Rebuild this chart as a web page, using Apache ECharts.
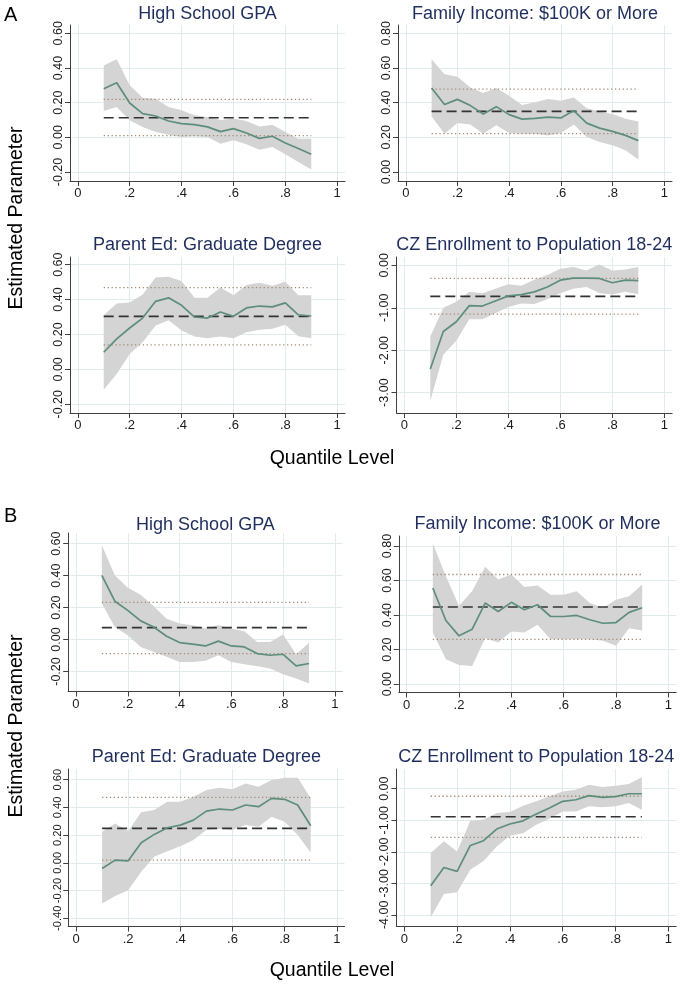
<!DOCTYPE html>
<html>
<head>
<meta charset="utf-8">
<title>Quantile estimates</title>
<script src="https://cdn.jsdelivr.net/npm/echarts@6/dist/echarts.min.js"></script>
<style>
  body, html { margin: 0; padding: 0; background: #fff; }
  #chart { width: 685px; height: 986px; }
</style>
</head>
<body>
<div id="chart"></div>
<script>
// quantile levels
var quantiles = [0.1, 0.15, 0.2, 0.25, 0.3, 0.35, 0.4, 0.45, 0.5, 0.55, 0.6, 0.65, 0.7, 0.75, 0.8, 0.85, 0.9];
var xTicks = [0, 0.2, 0.4, 0.6, 0.8, 1];
var panelTitles = ['High School GPA', 'Family Income: $100K or More', 'Parent Ed: Graduate Degree', 'CZ Enrollment to Population 18-24'];

// ---- A ----
var aGpaEst = [0.28, 0.315, 0.198, 0.137, 0.123, 0.094, 0.079, 0.073, 0.06, 0.033, 0.05, 0.025, -0.006, 0.006, -0.033, -0.065, -0.098];
var aGpaHi  = [0.415, 0.45, 0.30, 0.229, 0.223, 0.175, 0.156, 0.127, 0.117, 0.10, 0.108, 0.094, 0.063, 0.073, 0.031, -0.008, -0.008];
var aGpaLo  = [0.152, 0.175, 0.098, 0.06, 0.031, 0.015, 0.002, 0.006, 0.002, -0.037, -0.017, -0.04, -0.071, -0.056, -0.098, -0.142, -0.185];
var aGpaOls = [0.113, 0.01, 0.219];

var aIncEst = [0.484, 0.389, 0.419, 0.383, 0.335, 0.377, 0.331, 0.305, 0.309, 0.316, 0.312, 0.354, 0.282, 0.253, 0.234, 0.211, 0.181];
var aIncHi  = [0.65, 0.564, 0.549, 0.488, 0.455, 0.484, 0.44, 0.387, 0.402, 0.421, 0.411, 0.43, 0.368, 0.349, 0.335, 0.307, 0.291];
var aIncLo  = [0.32, 0.221, 0.282, 0.274, 0.221, 0.269, 0.225, 0.221, 0.221, 0.211, 0.225, 0.274, 0.202, 0.173, 0.154, 0.126, 0.072];
var aIncOls = [0.35, 0.221, 0.478];

var aParEst = [0.098, 0.175, 0.237, 0.294, 0.39, 0.41, 0.367, 0.30, 0.294, 0.329, 0.304, 0.352, 0.363, 0.358, 0.381, 0.313, 0.306];
var aParHi  = [0.31, 0.377, 0.383, 0.429, 0.527, 0.531, 0.506, 0.41, 0.41, 0.469, 0.425, 0.483, 0.496, 0.479, 0.502, 0.425, 0.425];
var aParLo  = [-0.117, -0.027, 0.088, 0.156, 0.252, 0.281, 0.223, 0.188, 0.179, 0.188, 0.179, 0.213, 0.227, 0.233, 0.256, 0.19, 0.179];
var aParOls = [0.304, 0.14, 0.469];

var aCzEst = [-2.445, -1.56, -1.33, -0.95, -0.96, -0.84, -0.72, -0.69, -0.625, -0.51, -0.35, -0.30, -0.30, -0.31, -0.41, -0.35, -0.36];
var aCzHi  = [-1.68, -1.0, -0.86, -0.625, -0.66, -0.55, -0.445, -0.48, -0.34, -0.23, -0.08, -0.04, -0.12, 0.02, -0.12, -0.10, -0.04];
var aCzLo  = [-3.2, -2.11, -1.78, -1.27, -1.27, -1.13, -0.98, -0.90, -0.91, -0.80, -0.66, -0.55, -0.51, -0.65, -0.69, -0.625, -0.68];
var aCzOls = [-0.73, -1.15, -0.31];

// ---- B ----
var bGpaEst = [0.402, 0.24, 0.183, 0.117, 0.079, 0.021, -0.019, -0.029, -0.04, -0.01, -0.04, -0.046, -0.0875, -0.098, -0.092, -0.165, -0.15];
var bGpaHi  = [0.59, 0.402, 0.325, 0.281, 0.208, 0.131, 0.10, 0.09, 0.069, 0.09, 0.069, 0.052, -0.015, -0.015, 0.031, -0.092, -0.021];
var bGpaLo  = [0.225, 0.079, 0.027, -0.046, -0.077, -0.108, -0.14, -0.14, -0.133, -0.098, -0.14, -0.154, -0.167, -0.181, -0.217, -0.244, -0.275];
var bGpaOls = [0.075, -0.0875, 0.233];

var bIncEst = [0.557, 0.369, 0.28, 0.318, 0.47, 0.421, 0.474, 0.431, 0.46, 0.392, 0.392, 0.398, 0.373, 0.353, 0.357, 0.416, 0.443];
var bIncHi  = [0.815, 0.625, 0.454, 0.538, 0.68, 0.606, 0.635, 0.563, 0.571, 0.518, 0.518, 0.538, 0.47, 0.441, 0.489, 0.509, 0.577];
var bIncLo  = [0.299, 0.144, 0.111, 0.105, 0.266, 0.241, 0.305, 0.299, 0.344, 0.26, 0.26, 0.26, 0.26, 0.252, 0.223, 0.324, 0.311];
var bIncOls = [0.447, 0.26, 0.635];

var bParEst = [-0.041, 0.019, 0.014, 0.145, 0.205, 0.253, 0.272, 0.308, 0.373, 0.388, 0.381, 0.417, 0.405, 0.465, 0.458, 0.417, 0.267];
var bParHi  = [0.224, 0.284, 0.229, 0.364, 0.381, 0.441, 0.441, 0.477, 0.525, 0.542, 0.53, 0.573, 0.549, 0.598, 0.614, 0.614, 0.465];
var bParLo  = [-0.294, -0.239, -0.198, -0.065, 0.043, 0.084, 0.12, 0.164, 0.236, 0.243, 0.236, 0.272, 0.26, 0.333, 0.296, 0.2, 0.075];
var bParOls = [0.248, 0.019, 0.472];

var bCzEst = [-3.08, -2.50, -2.62, -1.80, -1.65, -1.28, -1.12, -1.02, -0.80, -0.61, -0.40, -0.35, -0.22, -0.275, -0.25, -0.16, -0.16];
var bCzHi  = [-2.04, -1.67, -1.99, -1.02, -0.98, -0.77, -0.74, -0.54, -0.40, -0.24, -0.085, -0.03, 0.127, 0.053, 0.095, 0.148, 0.36];
var bCzLo  = [-4.08, -3.34, -3.28, -2.57, -2.29, -1.83, -1.49, -1.41, -1.14, -0.95, -0.72, -0.72, -0.56, -0.59, -0.56, -0.455, -0.67];
var bCzOls = [-0.89, -1.545, -0.24];

// y tick labels per panel
var yTicksProp = [-0.2, 0, 0.2, 0.4, 0.6];
var yTicksInc = [0, 0.2, 0.4, 0.6, 0.8];
var yTicksCzA = [-3, -2, -1, 0];
var yTicksParB = [-0.4, -0.2, 0, 0.2, 0.4, 0.6];
var yTicksCzB = [-4, -3, -2, -1, 0];

var panels = [
  { title: panelTitles[0], est: aGpaEst, hi: aGpaHi, lo: aGpaLo, ols: aGpaOls, ticks: yTicksProp, min: -0.252, max: 0.648, box: [70, 25, 275, 156] },
  { title: panelTitles[1], est: aIncEst, hi: aIncHi, lo: aIncLo, ols: aIncOls, ticks: yTicksInc, min: -0.052, max: 0.848, box: [398, 25, 274, 156] },
  { title: panelTitles[2], est: aParEst, hi: aParHi, lo: aParLo, ols: aParOls, ticks: yTicksProp, min: -0.25, max: 0.644, box: [70, 257, 275, 156] },
  { title: panelTitles[3], est: aCzEst, hi: aCzHi, lo: aCzLo, ols: aCzOls, ticks: yTicksCzA, min: -3.48, max: 0.196, box: [396.5, 257, 275.6, 156] },
  { title: panelTitles[0], est: bGpaEst, hi: bGpaHi, lo: bGpaLo, ols: bGpaOls, ticks: yTicksProp, min: -0.325, max: 0.667, box: [68.2, 533, 274.5, 158.5] },
  { title: panelTitles[1], est: bIncEst, hi: bIncHi, lo: bIncLo, ols: bIncOls, ticks: yTicksInc, min: -0.048, max: 0.858, box: [398.8, 536, 277.4, 156.5] },
  { title: panelTitles[2], est: bParEst, hi: bParHi, lo: bParLo, ols: bParOls, ticks: yTicksParB, min: -0.46, max: 0.677, box: [68.2, 769, 276.4, 157.5], labelSize: 11.2 },
  { title: panelTitles[3], est: bCzEst, hi: bCzHi, lo: bCzLo, ols: bCzOls, ticks: yTicksCzB, min: -4.37, max: 0.625, box: [396.4, 769, 279.8, 157.5] }
];
var titleY = [14, 14, 245, 245, 525, 524, 757, 757];

var FONT = '"Liberation Sans", Arial, sans-serif';
var GRIDC = '#e1ebee';
var AXISC = '#404040';

var chart = echarts.init(document.getElementById('chart'));

var grids = [], xAxes = [], yAxes = [], series = [], graphics = [];

function pairs(ys) {
  return quantiles.map(function (q, i) { return [q, ys[i]]; });
}

panels.forEach(function (p, k) {
  grids.push({ left: p.box[0], top: p.box[1], width: p.box[2], height: p.box[3], containLabel: false });
  xAxes.push({
    type: 'value', gridIndex: k, min: -0.03, max: 1.03,
    axisLine: { show: true, onZero: false, lineStyle: { color: AXISC } },
    axisTick: { show: true, length: 5, customValues: xTicks, lineStyle: { color: AXISC } },
    axisLabel: {
      customValues: xTicks, fontSize: 13, color: '#1a1a1a', fontFamily: FONT, margin: 6,
      hideOverlap: false, showMinLabel: true, showMaxLabel: true,
      formatter: function (v) { return (v === 0 || v === 1) ? String(v) : String(v).replace(/^0/, ''); }
    },
    splitLine: { show: true, lineStyle: { color: GRIDC, width: 1 } }
  });
  yAxes.push({
    type: 'value', gridIndex: k, min: p.min, max: p.max,
    axisLine: { show: true, onZero: false, lineStyle: { color: AXISC } },
    axisTick: { show: true, length: 5, customValues: p.ticks, lineStyle: { color: AXISC } },
    axisLabel: {
      customValues: p.ticks, rotate: 90, fontSize: p.labelSize || 12.5, color: '#1a1a1a', fontFamily: FONT, margin: 5,
      hideOverlap: false, showMinLabel: true, showMaxLabel: true,
      formatter: function (v) { return v.toFixed(2); }
    },
    splitLine: { show: true, lineStyle: { color: GRIDC, width: 1 } }
  });

  // confidence band
  series.push({
    type: 'custom', xAxisIndex: k, yAxisIndex: k, silent: true, clip: true,
    data: quantiles.map(function (q, i) { return [q, p.lo[i], p.hi[i]]; }),
    encode: { x: 0, y: [1, 2] },
    renderItem: function (params, api) {
      if (params.dataIndex !== 0) return null;
      var pts = [];
      for (var i = 0; i < quantiles.length; i++) pts.push(api.coord([quantiles[i], p.hi[i]]));
      for (var j = quantiles.length - 1; j >= 0; j--) pts.push(api.coord([quantiles[j], p.lo[j]]));
      return { type: 'polygon', shape: { points: pts }, style: { fill: '#d4d4d4' } };
    },
    z: 1
  });
  // OLS estimate and its CI
  var q0 = quantiles[0], q1 = quantiles[quantiles.length - 1];
  series.push({
    type: 'line', xAxisIndex: k, yAxisIndex: k, symbol: 'none', silent: true, z: 3,
    data: [[q0, p.ols[1]], [q1, p.ols[1]]],
    lineStyle: { color: '#a08c78', width: 1.3, type: [1.3, 2.6] }
  });
  series.push({
    type: 'line', xAxisIndex: k, yAxisIndex: k, symbol: 'none', silent: true, z: 3,
    data: [[q0, p.ols[2]], [q1, p.ols[2]]],
    lineStyle: { color: '#a08c78', width: 1.3, type: [1.3, 2.6] }
  });
  series.push({
    type: 'line', xAxisIndex: k, yAxisIndex: k, symbol: 'none', silent: true, z: 4,
    data: [[q0, p.ols[0]], [q1, p.ols[0]]],
    lineStyle: { color: '#333', width: 1.7, type: [10, 5] }
  });
  // quantile estimates
  series.push({
    type: 'line', xAxisIndex: k, yAxisIndex: k, symbol: 'none', silent: true, z: 5,
    data: pairs(p.est),
    lineStyle: { color: '#5e8e7b', width: 1.7 }
  });

  graphics.push({
    type: 'text', x: p.box[0] + p.box[2] / 2, y: titleY[k],
    style: { text: p.title, font: '18px ' + FONT, fill: '#1f2e5c', textAlign: 'center', textVerticalAlign: 'middle' }
  });
});

// shared labels
graphics.push({ type: 'text', x: 4, y: 15, style: { text: 'A', font: '20px ' + FONT, fill: '#000', textAlign: 'left', textVerticalAlign: 'middle' } });
graphics.push({ type: 'text', x: 4, y: 516, style: { text: 'B', font: '20px ' + FONT, fill: '#000', textAlign: 'left', textVerticalAlign: 'middle' } });
graphics.push({ type: 'text', x: 17, y: 218, rotation: Math.PI / 2, style: { text: 'Estimated Parameter', font: '19.5px ' + FONT, fill: '#000', textAlign: 'center', textVerticalAlign: 'middle' } });
graphics.push({ type: 'text', x: 17, y: 726, rotation: Math.PI / 2, style: { text: 'Estimated Parameter', font: '19.5px ' + FONT, fill: '#000', textAlign: 'center', textVerticalAlign: 'middle' } });
graphics.push({ type: 'text', x: 332, y: 459, style: { text: 'Quantile Level', font: '19.5px ' + FONT, fill: '#000', textAlign: 'center', textVerticalAlign: 'middle' } });
graphics.push({ type: 'text', x: 332, y: 971, style: { text: 'Quantile Level', font: '19.5px ' + FONT, fill: '#000', textAlign: 'center', textVerticalAlign: 'middle' } });

chart.setOption({
  backgroundColor: '#fff',
  animation: false,
  grid: grids,
  xAxis: xAxes,
  yAxis: yAxes,
  series: series,
  graphic: graphics
});
</script>
</body>
</html>
